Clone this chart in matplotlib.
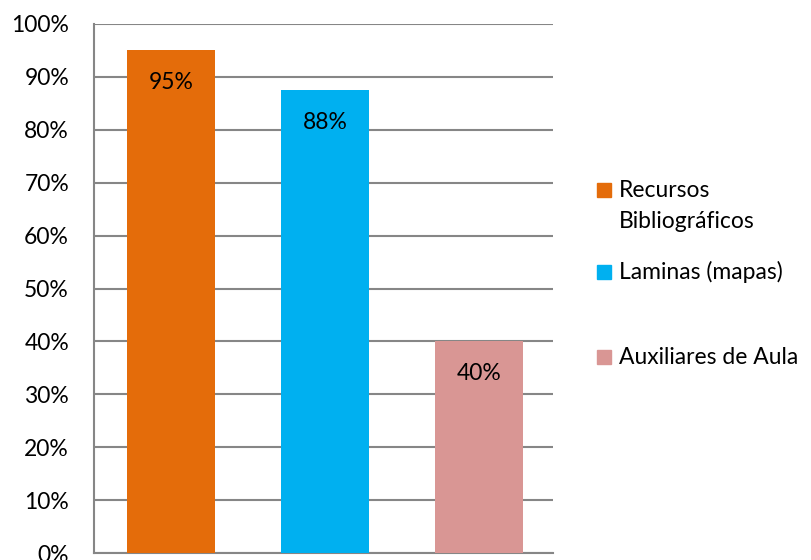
import matplotlib.pyplot as plt
from matplotlib.patches import Rectangle
from matplotlib.ticker import PercentFormatter

plt.rcParams['font.family'] = ['Lato', 'DejaVu Sans']

categories = ['Recursos\nBibliográficos', 'Laminas (mapas)', 'Auxiliares de Aula']
values = [95, 87.5, 40]
value_labels = ['95%', '88%', '40%']
colors = ['#E46C0A', '#00B0F0', '#D99694']
yticks = list(range(0, 101, 10))

W, H = 811, 560
FS = 16.5

fig = plt.figure(figsize=(W / 100, H / 100), dpi=100)
ax = fig.add_axes([94 / W, 1 - 553 / H, (553 - 94) / W, (553 - 24) / H])

x = range(len(values))
bars = ax.bar(x, values, width=0.57, color=colors, zorder=3)
for b, lab in zip(bars, value_labels):
    ax.annotate(lab, (b.get_x() + b.get_width() / 2, b.get_height()),
                xytext=(0, -23), textcoords='offset points',
                ha='center', va='center', fontsize=FS, color='black')

ax.set_xlim(-0.5, 2.48)
ax.set_ylim(0, 100)
ax.set_yticks(yticks)
ax.yaxis.set_major_formatter(PercentFormatter(decimals=0))
ax.set_xticks([])
ax.tick_params(axis='y', length=0, labelsize=FS, pad=18)
ax.grid(axis='y', color='#868686', linewidth=1.5, zorder=0)
for s in ['top', 'right']:
    ax.spines[s].set_visible(False)
for s in ['left', 'bottom']:
    ax.spines[s].set_color('#868686')
    ax.spines[s].set_linewidth(1.5)

# leyenda a mano (estilo Excel: cuadro alineado con la primera linea)
handle_y = [190, 272, 357]
text_y = [206, 272, 357]
for c, lab, hy, ty in zip(colors, categories, handle_y, text_y):
    fig.patches.append(Rectangle((597 / W, 1 - (hy + 7) / H), 14 / W, 14 / H,
                                 transform=fig.transFigure, color=c))
    fig.text(619 / W, 1 - ty / H, lab, ha='left', va='center',
             fontsize=FS, linespacing=1.6)

fig.savefig('out.png', dpi=100)
